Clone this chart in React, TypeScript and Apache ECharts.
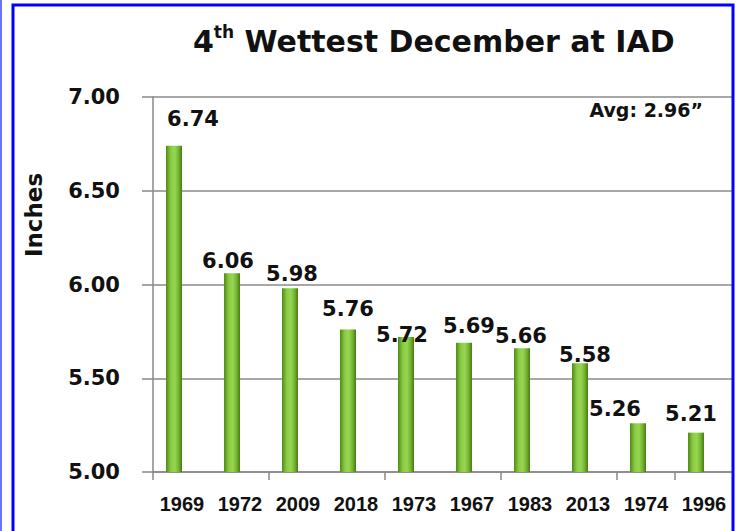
import React, { useEffect, useRef } from "react";
import * as echarts from "echarts";

const years = ["1969", "1972", "2009", "2018", "1973", "1967", "1983", "2013", "1974", "1996"];
const inches = [6.74, 6.06, 5.98, 5.76, 5.72, 5.69, 5.66, 5.58, 5.26, 5.21];
const yMin = 5;
const yMax = 7;
const yStep = 0.5;
const titleMain = "Wettest December at IAD";
const avgText = "Avg: 2.96\u201D";
const yName = "Inches";
// manual nudges of the value labels, as in the original
const labelNudges = [
  [19, -16], [-4, -2], [2, -4], [0, -10], [-4, 8], [5, -6], [-1, -2], [5, 2], [-23, -4], [-5, -8],
];

const FONT = "DejaVu Sans";

export default function App() {
  const ref = useRef<HTMLDivElement>(null);
  useEffect(() => {
    if (!ref.current) return;
    const chart = echarts.init(ref.current, undefined, { renderer: "svg" });
    const barColor = new echarts.graphic.LinearGradient(0, 0, 1, 0, [
      { offset: 0, color: "#4f8a14" },
      { offset: 0.3, color: "#8acc45" },
      { offset: 0.55, color: "#97d652" },
      { offset: 0.8, color: "#72b230" },
      { offset: 1, color: "#457a10" },
    ]);
    chart.setOption({
      animation: false,
      backgroundColor: "#ffffff",
      title: {
        text: "{a|4}{b|th}{a| " + titleMain + "}",
        left: 188,
        top: 18,
        textStyle: {
          rich: {
            a: { fontFamily: FONT, fontWeight: "bold", fontSize: 30, color: "#111", lineHeight: 36 },
            b: { fontFamily: FONT, fontWeight: "bold", fontSize: 17, color: "#111", verticalAlign: "top", lineHeight: 20 },
          },
        },
      },
      grid: { left: 153, right: 3, top: 97, bottom: 59, containLabel: false },
      xAxis: {
        type: "category",
        data: years,
        boundaryGap: true,
        axisLine: { show: true, lineStyle: { color: "#888", width: 1.5 } },
        axisTick: { show: true, interval: 1, length: 8, lineStyle: { color: "#888", width: 1.5 } },
        axisLabel: {
          interval: 0,
          margin: 22,
          fontFamily: "Liberation Sans",
          fontWeight: "bold",
          fontSize: 20,
          color: "#111",
        },
      },
      yAxis: {
        type: "value",
        min: yMin,
        max: yMax,
        interval: yStep,
        axisLine: { show: true, lineStyle: { color: "#888", width: 1.5 } },
        axisTick: { show: true, length: 11, lineStyle: { color: "#888", width: 1.5 } },
        splitLine: { show: true, lineStyle: { color: "#8a8a8a", width: 1.5 } },
        axisLabel: {
          margin: 33,
          formatter: (v: number) => v.toFixed(2),
          fontFamily: FONT,
          fontWeight: "bold",
          fontSize: 21,
          color: "#111",
        },
      },
      series: [
        {
          type: "bar",
          data: inches.map((v, i) => ({ value: v, label: { offset: labelNudges[i] } })),
          barWidth: 16,
          barGap: "0%",
          itemStyle: { color: barColor },
          label: {
            show: true,
            position: "top",
            distance: 0,
            formatter: (p: any) => Number(p.value).toFixed(2),
            fontFamily: FONT,
            fontWeight: "bold",
            fontSize: 21,
            color: "#111",
          },
        },
        {
          type: "bar",
          data: years.map(() => "-"),
          barWidth: 16,
          barGap: "0%",
          silent: true,
          itemStyle: { color: "transparent" },
        },
      ],
      graphic: [
        {
          type: "text",
          x: 34,
          y: 215,
          rotation: Math.PI / 2,
          style: {
            text: yName,
            fontFamily: FONT,
            fontWeight: "bold",
            fontSize: 23,
            fill: "#111",
            align: "center",
            verticalAlign: "middle",
          },
        },
        {
          type: "text",
          x: 703,
          y: 110,
          style: {
            text: avgText,
            fontFamily: FONT,
            fontWeight: "bold",
            fontSize: 19,
            fill: "#111",
            align: "right",
            verticalAlign: "middle",
          },
        },
        {
          type: "rect",
          shape: { x: 13, y: 5, width: 720, height: 560 },
          style: { fill: "none", stroke: "#0000ff", lineWidth: 3 },
          silent: true,
          z: 100,
        },
        {
          type: "line",
          shape: { x1: 1, y1: 0, x2: 1, y2: 531 },
          style: { stroke: "#7070ff", lineWidth: 2 },
          silent: true,
          z: 100,
        },
      ],
    });
    return () => chart.dispose();
  }, []);
  return (
    <div
      ref={ref}
      style={{ position: "fixed", left: 0, top: 0, width: 736, height: 531 }}
    />
  );
}
